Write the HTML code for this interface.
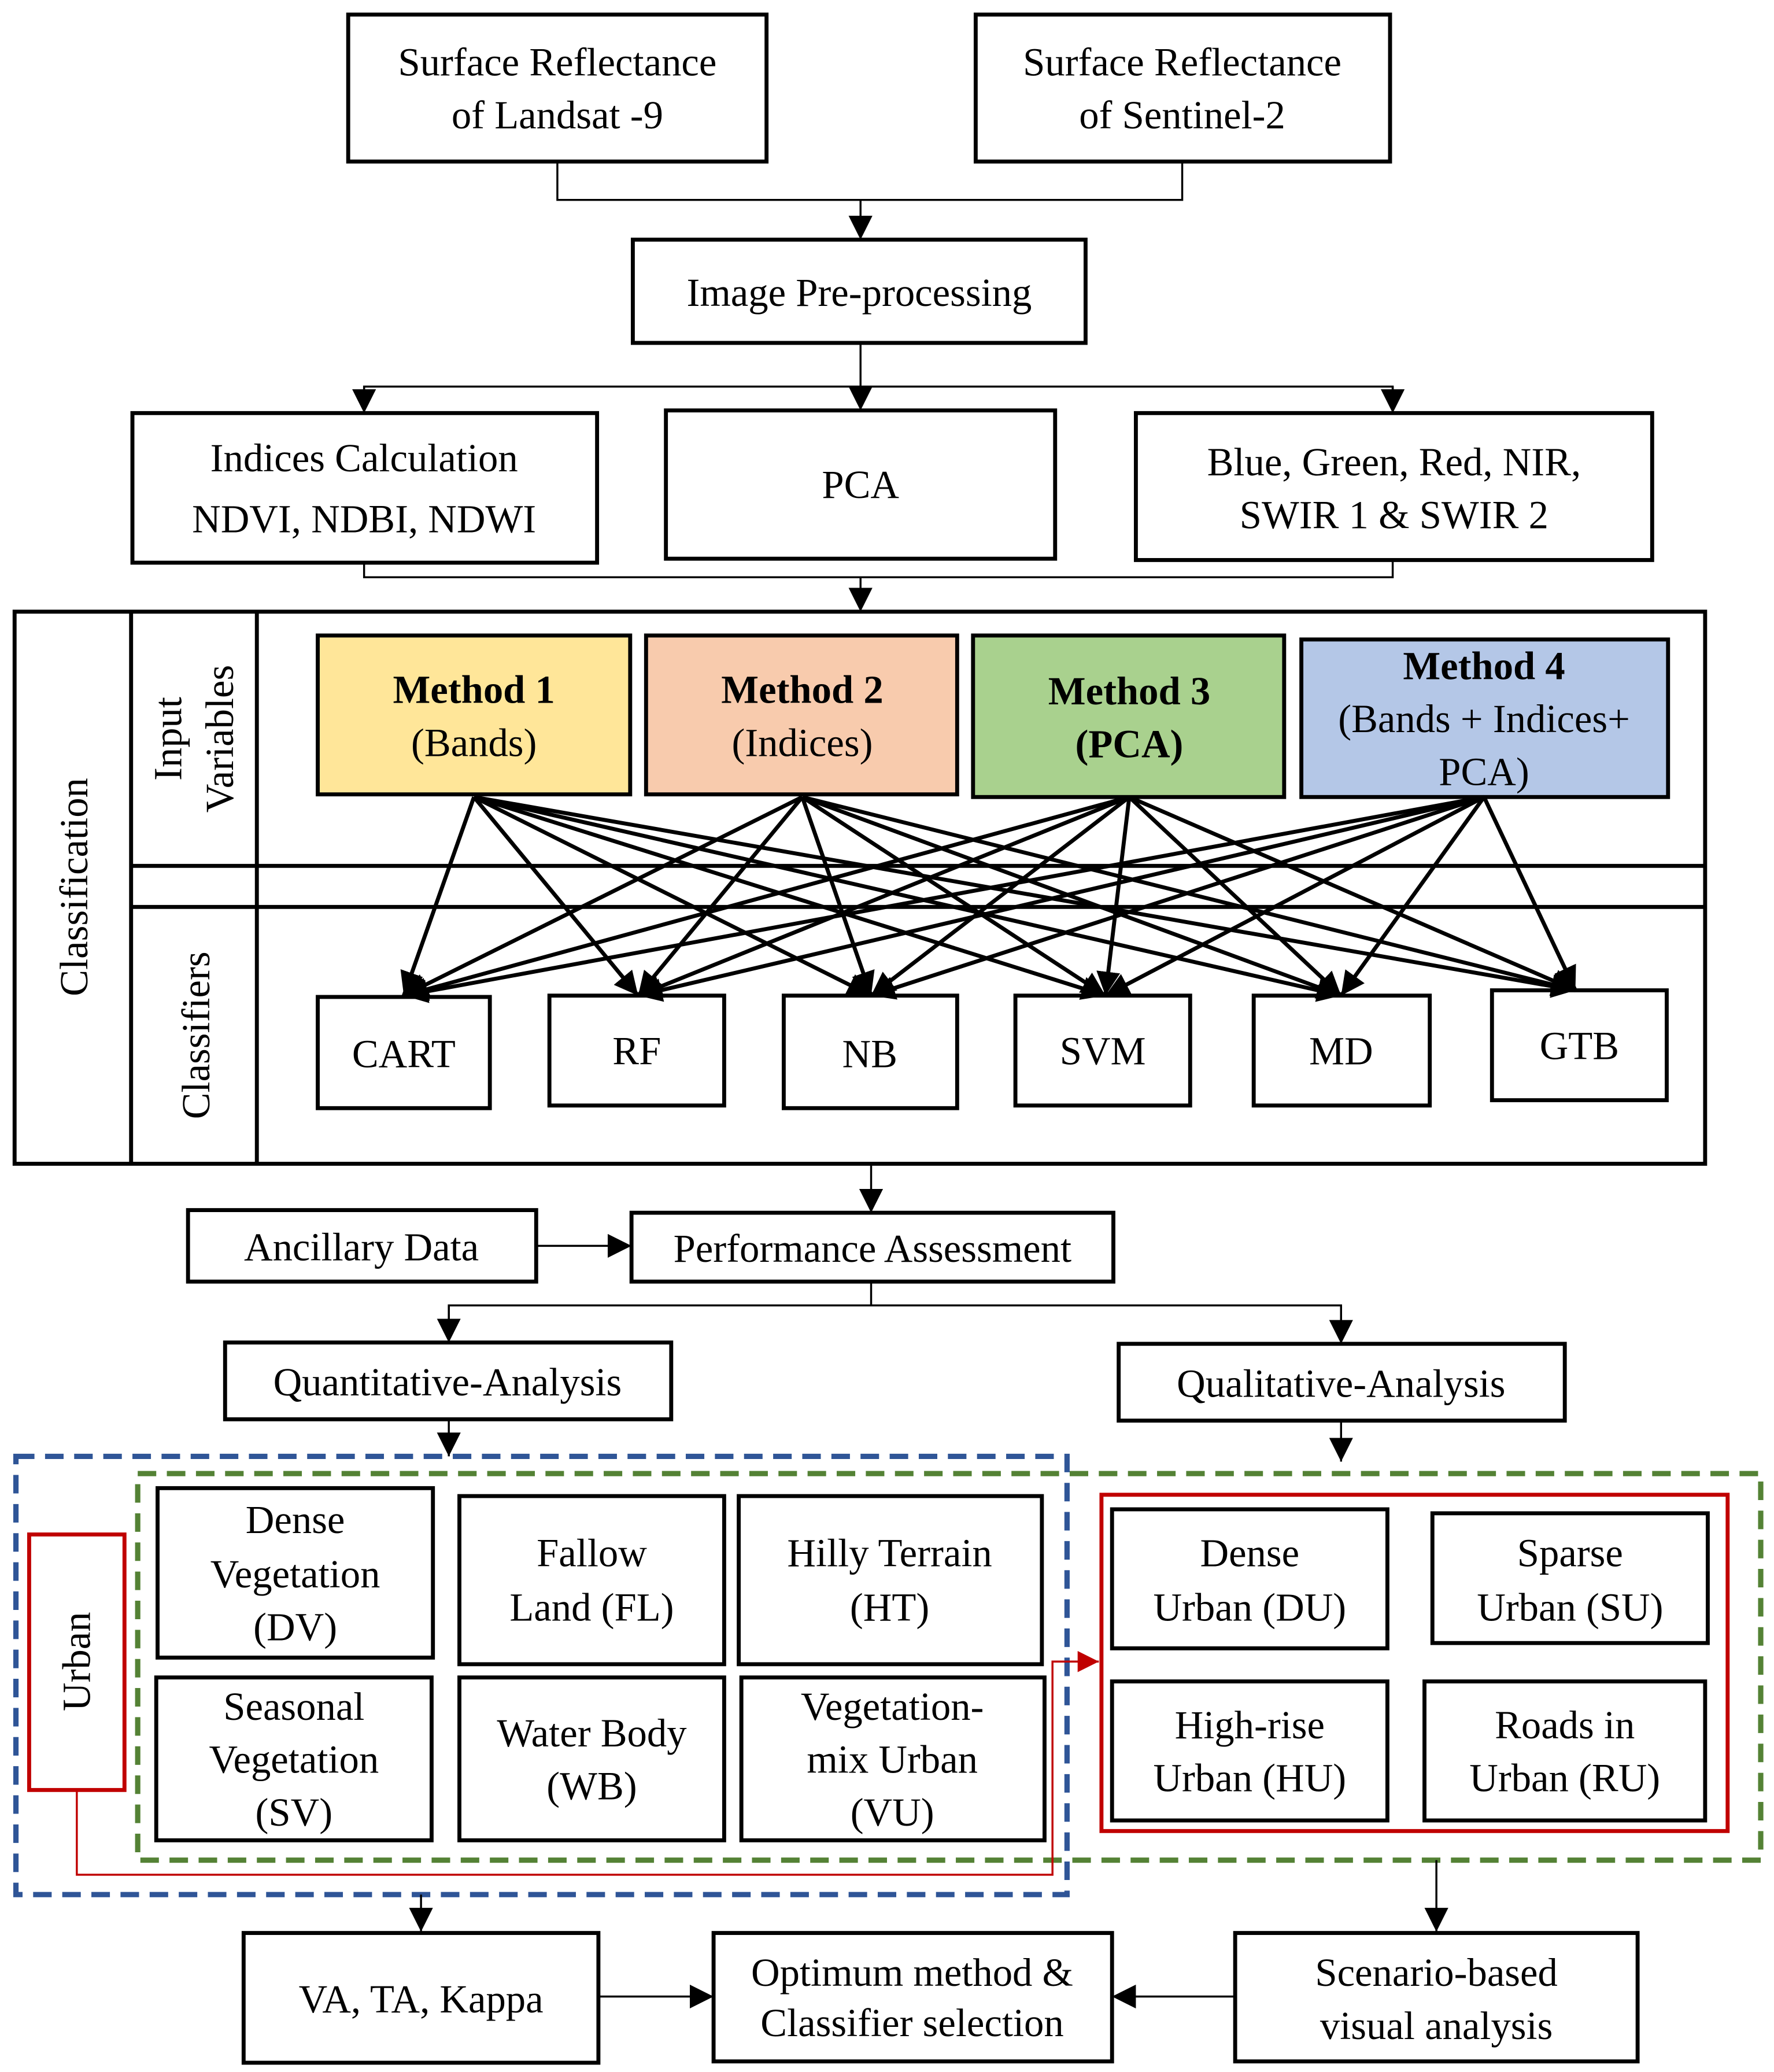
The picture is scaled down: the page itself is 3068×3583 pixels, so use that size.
<!DOCTYPE html>
<html><head><meta charset="utf-8"><style>
html,body{margin:0;padding:0;background:#fff;}
svg{display:block;}
</style></head><body>
<svg width="3068" height="3583" viewBox="0 0 1340 1565" xmlns="http://www.w3.org/2000/svg">
<defs>
<marker id="b" viewBox="0 0 10 10" refX="10" refY="5" markerWidth="18" markerHeight="18" orient="auto" markerUnits="userSpaceOnUse"><path d="M0,0L10,5L0,10z" fill="#000"/></marker>
<marker id="r" viewBox="0 0 10 10" refX="10" refY="5" markerWidth="16" markerHeight="16" orient="auto" markerUnits="userSpaceOnUse"><path d="M0,0L10,5L0,10z" fill="#c00000"/></marker>
</defs>
<g fill="none" stroke="#000" stroke-width="3">
<rect x="263" y="11" width="316" height="111"/>
<rect x="737" y="11" width="313" height="111"/>
<rect x="478" y="181" width="342" height="78"/>
<rect x="100" y="312" width="351" height="113"/>
<rect x="503" y="310" width="294" height="112"/>
<rect x="858" y="312" width="390" height="111"/>
<rect x="11" y="462" width="1277" height="417"/>
<line x1="99" y1="462" x2="99" y2="879"/>
<line x1="194" y1="462" x2="194" y2="879"/>
<line x1="99" y1="654" x2="1288" y2="654"/>
<line x1="99" y1="685" x2="1288" y2="685"/>
<rect x="240" y="480" width="236" height="120" fill="#FFE699"/>
<rect x="488" y="480" width="235" height="120" fill="#F8CBAD"/>
<rect x="735" y="480" width="235" height="122" fill="#A9D18E"/>
<rect x="983" y="483" width="277" height="119" fill="#B4C7E7"/>
<rect x="240" y="753" width="130" height="84"/>
<rect x="415" y="752" width="132" height="83"/>
<rect x="592" y="752" width="131" height="85"/>
<rect x="767" y="752" width="132" height="83"/>
<rect x="947" y="752" width="133" height="83"/>
<rect x="1127" y="748" width="132" height="83"/>
<rect x="477" y="916" width="364" height="52"/>
<rect x="142" y="914" width="263" height="54"/>
<rect x="170" y="1014" width="337" height="58"/>
<rect x="845" y="1015" width="337" height="58"/>
<rect x="119" y="1124" width="208" height="128"/>
<rect x="347" y="1130" width="200" height="127"/>
<rect x="558" y="1130" width="229" height="127"/>
<rect x="118" y="1267" width="208" height="123"/>
<rect x="347" y="1267" width="200" height="123"/>
<rect x="560" y="1267" width="229" height="123"/>
<rect x="840" y="1140" width="208" height="105"/>
<rect x="1082" y="1143" width="208" height="98"/>
<rect x="840" y="1270" width="208" height="105"/>
<rect x="1076" y="1270" width="212" height="105"/>
<rect x="184" y="1460" width="268" height="98"/>
<rect x="539" y="1460" width="301" height="97"/>
<rect x="933" y="1460" width="304" height="97"/>
</g>
<rect x="12" y="1100" width="794" height="331" fill="none" stroke="#2F5597" stroke-width="4" stroke-dasharray="14,8"/>
<rect x="104" y="1113" width="1226" height="292" fill="none" stroke="#548235" stroke-width="4" stroke-dasharray="14,8"/>
<rect x="22" y="1159" width="72" height="193" fill="none" stroke="#c00000" stroke-width="3"/>
<rect x="832" y="1129" width="473" height="254" fill="none" stroke="#c00000" stroke-width="3"/>
<polyline points="58,1352 58,1416 795,1416 795,1255 830,1255" fill="none" stroke="#c00000" stroke-width="1.5" marker-end="url(#r)"/>
<g fill="none" stroke="#000" stroke-width="1.5">
<polyline points="421,122 421,151 893,151 893,122"/>
<line x1="650" y1="151" x2="650" y2="181" marker-end="url(#b)"/>
<line x1="650" y1="259" x2="650" y2="310" marker-end="url(#b)"/>
<polyline points="275,312 275,292 1052,292 1052,312"/>
<line x1="275" y1="292" x2="275" y2="312" marker-end="url(#b)"/>
<line x1="1052" y1="292" x2="1052" y2="312" marker-end="url(#b)"/>
<polyline points="275,425 275,436 1052,436 1052,423"/>
<line x1="650" y1="436" x2="650" y2="462" marker-end="url(#b)"/>
<line x1="658" y1="879" x2="658" y2="916" marker-end="url(#b)"/>
<line x1="405" y1="941" x2="477" y2="941" marker-end="url(#b)"/>
<polyline points="658,968 658,986"/>
<polyline points="339,1014 339,986 1013,986 1013,1015"/>
<line x1="339" y1="986" x2="339" y2="1014" marker-end="url(#b)"/>
<line x1="1013" y1="986" x2="1013" y2="1015" marker-end="url(#b)"/>
<line x1="339" y1="1072" x2="339" y2="1100" marker-end="url(#b)"/>
<line x1="1013" y1="1073" x2="1013" y2="1104" marker-end="url(#b)"/>
<line x1="318" y1="1431" x2="318" y2="1459" marker-end="url(#b)"/>
<line x1="1085" y1="1405" x2="1085" y2="1459" marker-end="url(#b)"/>
<line x1="452" y1="1508" x2="539" y2="1508" marker-end="url(#b)"/>
<line x1="933" y1="1508" x2="840" y2="1508" marker-end="url(#b)"/>
</g>
<g stroke="#000" stroke-width="3" fill="none">
<line x1="358" y1="602" x2="305" y2="752" marker-end="url(#b)"/>
<line x1="358" y1="602" x2="482" y2="752" marker-end="url(#b)"/>
<line x1="358" y1="602" x2="658" y2="752" marker-end="url(#b)"/>
<line x1="358" y1="602" x2="835" y2="752" marker-end="url(#b)"/>
<line x1="358" y1="602" x2="1013" y2="752" marker-end="url(#b)"/>
<line x1="358" y1="602" x2="1190" y2="748" marker-end="url(#b)"/>
<line x1="606" y1="602" x2="305" y2="752" marker-end="url(#b)"/>
<line x1="606" y1="602" x2="482" y2="752" marker-end="url(#b)"/>
<line x1="606" y1="602" x2="658" y2="752" marker-end="url(#b)"/>
<line x1="606" y1="602" x2="835" y2="752" marker-end="url(#b)"/>
<line x1="606" y1="602" x2="1013" y2="752" marker-end="url(#b)"/>
<line x1="606" y1="602" x2="1190" y2="748" marker-end="url(#b)"/>
<line x1="853" y1="602" x2="305" y2="752" marker-end="url(#b)"/>
<line x1="853" y1="602" x2="482" y2="752" marker-end="url(#b)"/>
<line x1="853" y1="602" x2="658" y2="752" marker-end="url(#b)"/>
<line x1="853" y1="602" x2="835" y2="752" marker-end="url(#b)"/>
<line x1="853" y1="602" x2="1013" y2="752" marker-end="url(#b)"/>
<line x1="853" y1="602" x2="1190" y2="748" marker-end="url(#b)"/>
<line x1="1121" y1="602" x2="305" y2="752" marker-end="url(#b)"/>
<line x1="1121" y1="602" x2="482" y2="752" marker-end="url(#b)"/>
<line x1="1121" y1="602" x2="658" y2="752" marker-end="url(#b)"/>
<line x1="1121" y1="602" x2="835" y2="752" marker-end="url(#b)"/>
<line x1="1121" y1="602" x2="1013" y2="752" marker-end="url(#b)"/>
<line x1="1121" y1="602" x2="1190" y2="748" marker-end="url(#b)"/>
</g>
<g text-anchor="middle" font-family="'Liberation Serif', 'DejaVu Serif', serif" font-size="30" fill="#000">
<text x="421" y="57">Surface Reflectance</text><text x="421" y="97">of Landsat -9</text>
<text x="893" y="57">Surface Reflectance</text><text x="893" y="97">of Sentinel-2</text>
<text x="649" y="231">Image Pre-processing</text>
<text x="275" y="356">Indices Calculation</text><text x="275" y="402">NDVI, NDBI, NDWI</text>
<text x="650" y="376">PCA</text>
<text x="1053" y="359">Blue, Green, Red, NIR,</text><text x="1053" y="399">SWIR 1 &amp; SWIR 2</text>
<text x="358" y="531" font-weight="bold">Method 1</text><text x="358" y="571">(Bands)</text>
<text x="606" y="531" font-weight="bold">Method 2</text><text x="606" y="571">(Indices)</text>
<text x="853" y="532" font-weight="bold">Method 3</text><text x="853" y="572" font-weight="bold">(PCA)</text>
<text x="1121" y="513" font-weight="bold">Method 4</text><text x="1121" y="553">(Bands + Indices+</text><text x="1121" y="593">PCA)</text>
<text x="305" y="806">CART</text><text x="481" y="804">RF</text><text x="657" y="806">NB</text>
<text x="833" y="804">SVM</text><text x="1013" y="804">MD</text><text x="1193" y="800">GTB</text>
<text x="273" y="952">Ancillary Data</text>
<text x="659" y="953">Performance Assessment</text>
<text x="338" y="1054">Quantitative-Analysis</text>
<text x="1013" y="1055">Qualitative-Analysis</text>
<text x="223" y="1158">Dense</text><text x="223" y="1199">Vegetation</text><text x="223" y="1239">(DV)</text>
<text x="447" y="1183">Fallow</text><text x="447" y="1224">Land (FL)</text>
<text x="672" y="1183">Hilly Terrain</text><text x="672" y="1224">(HT)</text>
<text x="222" y="1299">Seasonal</text><text x="222" y="1339">Vegetation</text><text x="222" y="1379">(SV)</text>
<text x="447" y="1319">Water Body</text><text x="447" y="1359">(WB)</text>
<text x="674" y="1299">Vegetation-</text><text x="674" y="1339">mix  Urban</text><text x="674" y="1379">(VU)</text>
<text x="944" y="1183">Dense</text><text x="944" y="1224">Urban (DU)</text>
<text x="1186" y="1183">Sparse</text><text x="1186" y="1224">Urban (SU)</text>
<text x="944" y="1313">High-rise</text><text x="944" y="1353">Urban (HU)</text>
<text x="1182" y="1313">Roads in</text><text x="1182" y="1353">Urban (RU)</text>
<text x="318" y="1520">VA, TA, Kappa</text>
<text x="689" y="1500">Optimum method &amp;</text><text x="689" y="1538">Classifier selection</text>
<text x="1085" y="1500">Scenario-based</text><text x="1085" y="1540">visual analysis</text>
<text transform="translate(66,670) rotate(-90)">Classification</text>
<text transform="translate(137,558) rotate(-90)">Input</text>
<text transform="translate(176,558) rotate(-90)">Variables</text>
<text transform="translate(158,782) rotate(-90)">Classifiers</text>
<text transform="translate(68,1255) rotate(-90)">Urban</text>
</g>
</svg>
</body></html>
